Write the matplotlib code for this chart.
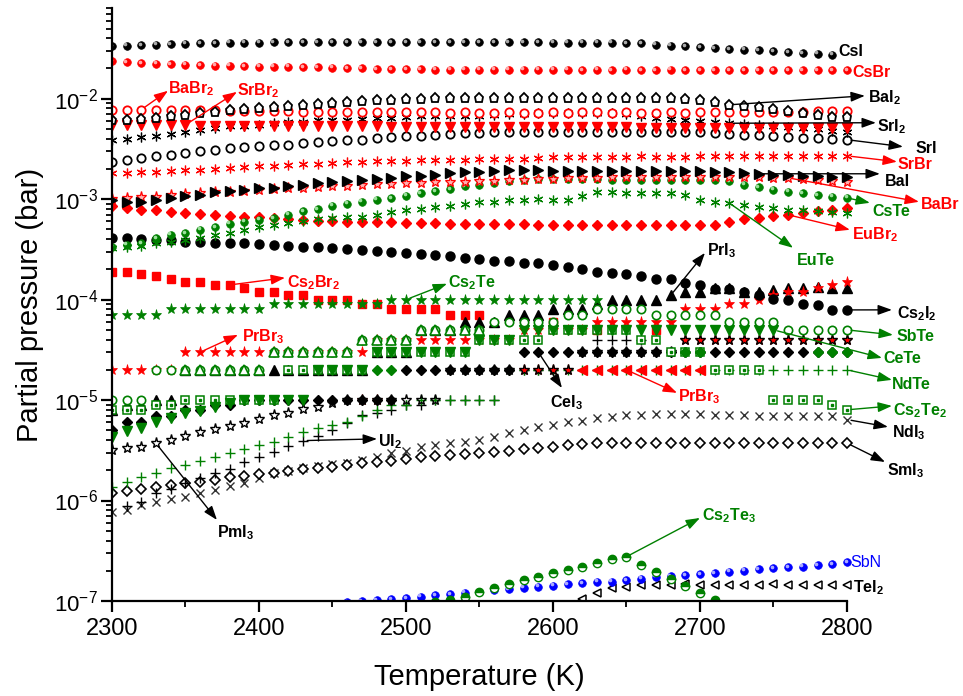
import matplotlib
matplotlib.use('Agg')
import matplotlib.pyplot as plt
from matplotlib.ticker import MultipleLocator, LogLocator, NullFormatter
from matplotlib.patches import Rectangle
from matplotlib.transforms import offset_copy

plt.rcParams['font.family'] = ['Liberation Sans', 'DejaVu Sans']
plt.rcParams['mathtext.fontset'] = 'custom'
plt.rcParams['mathtext.rm'] = 'Liberation Sans'
plt.rcParams['mathtext.it'] = 'Liberation Sans:italic'
plt.rcParams['mathtext.bf'] = 'Liberation Sans:bold'
plt.rcParams['axes.unicode_minus'] = False

GREEN = '#008000'
RED = '#ff0000'
BLUE = '#0000ff'


def temps(t0, n):
    return list(range(t0, t0 + 10 * n, 10))


# ---- data (partial pressure in bar, temperatures in K) ----
t_full = temps(2300, 51)

t_csi = temps(2300, 50)
csi = [0.0332, 0.0337, 0.0343, 0.0345, 0.0350, 0.0353, 0.0356, 0.0358, 0.0360, 0.0361,
       0.0362, 0.0363, 0.0364, 0.0365, 0.0365, 0.0366, 0.0366, 0.0366, 0.0366, 0.0366,
       0.0365, 0.0365, 0.0365, 0.0364, 0.0364, 0.0364, 0.0364, 0.0363, 0.0363, 0.0363,
       0.0362, 0.0362, 0.0362, 0.0361, 0.0360, 0.0358, 0.0355, 0.0345, 0.0338, 0.0332,
       0.0328, 0.0320, 0.0313, 0.0308, 0.0303, 0.0296, 0.0289, 0.0285, 0.0280, 0.0274]

csbr = [0.0235, 0.0230, 0.0227, 0.0223, 0.0221, 0.0218, 0.0216, 0.0214, 0.0213, 0.0211,
        0.0209, 0.0209, 0.0208, 0.0206, 0.0205, 0.0203, 0.0202, 0.0200, 0.0198, 0.0198,
        0.0197, 0.0197, 0.0195, 0.0195, 0.0194, 0.0194, 0.0194, 0.0194, 0.0194, 0.0194,
        0.0194, 0.0194, 0.0193, 0.0194, 0.0193, 0.0194, 0.0193, 0.0193, 0.0194, 0.0193,
        0.0193, 0.0192, 0.0193, 0.0193, 0.0192, 0.0192, 0.0193, 0.0192, 0.0192, 0.0191,
        0.0191]

bai2 = [0.00618, 0.00618, 0.00633, 0.00643, 0.00668, 0.00694, 0.00721, 0.00731, 0.00777, 0.00795,
        0.00808, 0.00826, 0.00851, 0.00864, 0.00890, 0.00917, 0.00938, 0.00953, 0.00976, 0.00976,
        0.00991, 0.0100, 0.0101, 0.0101, 0.0102, 0.0102, 0.0102, 0.0102, 0.0102, 0.0102,
        0.0102, 0.0102, 0.0102, 0.0101, 0.0101, 0.0101, 0.0101, 0.0101, 0.0101, 0.0100,
        0.0097, 0.0092, 0.0087, 0.00837, 0.00818, 0.00789, 0.00760, 0.00721, 0.00689, 0.00665,
        0.00658]

babr2 = [0.0078, 0.0078, 0.0078, 0.0078, 0.0077, 0.0077, 0.0077, 0.0077, 0.0076, 0.0076,
         0.0076, 0.0075, 0.0075, 0.0074, 0.0074, 0.0074, 0.0073, 0.0073, 0.0073, 0.0073,
         0.0073, 0.0073, 0.0073, 0.0072, 0.0073, 0.0072, 0.0072, 0.0073, 0.0072, 0.0072,
         0.0073, 0.0072, 0.0073, 0.0073, 0.0072, 0.0073, 0.0072, 0.0072, 0.0073, 0.0072,
         0.0073, 0.0073, 0.0073, 0.0073, 0.0074, 0.0074, 0.0074, 0.0074, 0.0075, 0.0075,
         0.0075]

srbr2 = [0.0055, 0.0055, 0.0055, 0.0055, 0.0055, 0.0055, 0.0054, 0.0054, 0.0054, 0.0054,
         0.0054, 0.0054, 0.0054, 0.0053, 0.0053, 0.0053, 0.0053, 0.0053, 0.0053, 0.0052,
         0.0052, 0.0052, 0.0052, 0.0052, 0.0052, 0.0052, 0.0052, 0.0052, 0.0052, 0.0052,
         0.0052, 0.0052, 0.0052, 0.0052, 0.0052, 0.0052, 0.0051, 0.0051, 0.0051, 0.0051,
         0.0051, 0.0051, 0.0051, 0.0051, 0.0051, 0.0051, 0.0051, 0.0051, 0.0051, 0.0051,
         0.0051]

sri2 = [0.0039, 0.0040, 0.0042, 0.0043, 0.0045, 0.0047, 0.0049, 0.0051, 0.0053, 0.0054,
        0.0055, 0.0057, 0.0058, 0.0059, 0.0061, 0.0062, 0.0062, 0.0063, 0.0064, 0.0065,
        0.0066, 0.0067, 0.0067, 0.0068, 0.0068, 0.0068, 0.0069, 0.0070, 0.0071, 0.0072,
        0.0072, 0.0072, 0.0072, 0.0072, 0.0072, 0.0070, 0.0067, 0.0065, 0.0063, 0.0062,
        0.0060, 0.0059, 0.0057, 0.0056, 0.0055, 0.0054, 0.0052, 0.0051, 0.0050, 0.0048,
        0.0047]

sri = [0.00237, 0.00247, 0.00257, 0.00267, 0.00278, 0.00289, 0.00300, 0.00307, 0.00320, 0.00330,
       0.00337, 0.00345, 0.00350, 0.00364, 0.00369, 0.00378, 0.00387, 0.00391, 0.00406, 0.00416,
       0.00422, 0.00429, 0.00439, 0.00450, 0.00457, 0.00457, 0.00464, 0.00464, 0.00468, 0.00468,
       0.00466, 0.00464, 0.00464, 0.00465, 0.00464, 0.00464, 0.00463, 0.00464, 0.00464, 0.00463,
       0.00464, 0.00457, 0.00450, 0.00439, 0.00432, 0.00422, 0.00416, 0.00406, 0.00403, 0.00397,
       0.00391]

srbr = [0.00182, 0.00182, 0.00185, 0.00185, 0.00189, 0.00193, 0.00196, 0.00200, 0.00204, 0.00209,
        0.00212, 0.00215, 0.00219, 0.00222, 0.00225, 0.00229, 0.00232, 0.00234, 0.00238, 0.00240,
        0.00242, 0.00243, 0.00245, 0.00247, 0.00248, 0.00251, 0.00252, 0.00254, 0.00254, 0.00256,
        0.00260, 0.00262, 0.00265, 0.00265, 0.00262, 0.00264, 0.00266, 0.00264, 0.00265, 0.00265,
        0.00266, 0.00266, 0.00266, 0.00267, 0.00267, 0.00267, 0.00268, 0.00268, 0.00268, 0.00269,
        0.00270]

bai = [0.000986, 0.000935, 0.000948, 0.000986, 0.001026, 0.001064, 0.001106, 0.001167, 0.001194, 0.001242,
       0.001290, 0.001290, 0.001338, 0.001391, 0.001446, 0.001466, 0.001500, 0.001560, 0.001585, 0.001622,
       0.001683, 0.001710, 0.001750, 0.001820, 0.001845, 0.001845, 0.001888, 0.001932, 0.001932, 0.001963,
       0.00192, 0.00191, 0.00190, 0.00190, 0.00189, 0.00189, 0.00189, 0.00189, 0.00189, 0.00189,
       0.00189, 0.00188, 0.00187, 0.00182, 0.00179, 0.00175, 0.00173, 0.00170, 0.00169, 0.00167,
       0.00165]

babr = [0.000997, 0.001020, 0.001044, 0.001059, 0.001101, 0.001126, 0.001145, 0.001171, 0.001188, 0.001215,
        0.001235, 0.001255, 0.001284, 0.001302, 0.001332, 0.001354, 0.001363, 0.001385, 0.001407, 0.001417,
        0.001440, 0.001460, 0.001473, 0.001494, 0.001494, 0.001518, 0.001528, 0.001543, 0.001553, 0.001578,
        0.00160, 0.00162, 0.00163, 0.00164, 0.00165, 0.00165, 0.00165, 0.00165, 0.00165, 0.00165,
        0.00165, 0.00165, 0.00165, 0.00165, 0.00165, 0.00164, 0.00163, 0.00160, 0.00155, 0.00152,
        0.00148]

cste = [0.000338, 0.000351, 0.000365, 0.000410, 0.000442, 0.000459, 0.000496, 0.000523, 0.000569, 0.000599,
        0.000623, 0.000648, 0.000699, 0.000754, 0.000796, 0.000859, 0.000900, 0.000948, 0.000986, 0.001025,
        0.001081, 0.001150, 0.001193, 0.001260, 0.001338, 0.001391, 0.001446, 0.001500, 0.001560, 0.001585,
        0.00158, 0.00157, 0.00157, 0.00157, 0.00156, 0.00156, 0.00156, 0.00156, 0.00156, 0.00156,
        0.00156, 0.00155, 0.00150, 0.00139, 0.00132, 0.00124, 0.00119, 0.00115, 0.00110, 0.00106,
        0.00103]

eute = [0.000326, 0.000338, 0.000343, 0.000365, 0.000379, 0.000394, 0.000410, 0.000442, 0.000459, 0.000496,
        0.000528, 0.000556, 0.000578, 0.000609, 0.000633, 0.000648, 0.000663, 0.000672, 0.000699, 0.000737,
        0.000772, 0.000796, 0.000834, 0.000859, 0.000900, 0.000927, 0.000948, 0.000971, 0.000986, 0.001009,
        0.000986, 0.000986, 0.00108, 0.00118, 0.00118, 0.00116, 0.00116, 0.00116, 0.00115, 0.00111,
        0.000986, 0.000948, 0.000914, 0.000878, 0.000840, 0.000815, 0.000784, 0.000772, 0.000754, 0.000740,
        0.000727]

eubr2 = [0.000846, 0.000815, 0.000784, 0.000772, 0.000749, 0.000727, 0.000715, 0.000699, 0.000683, 0.000672,
         0.000663, 0.000648, 0.000633, 0.000623, 0.000613, 0.000609, 0.000599, 0.000595, 0.000591, 0.000586,
         0.000582, 0.000578, 0.000573, 0.000569, 0.000569, 0.000565, 0.000565, 0.000561, 0.000561, 0.000556,
         0.000556, 0.000556, 0.000556, 0.000556, 0.000556, 0.000556, 0.000556, 0.000556, 0.000556, 0.000556,
         0.000556, 0.000556, 0.000599, 0.000633, 0.000648, 0.000683, 0.000699, 0.000727, 0.000754, 0.000784,
         0.000815]

cs2i2 = [0.000410, 0.000410, 0.000401, 0.000394, 0.000388, 0.000379, 0.000379, 0.000370, 0.000370, 0.000365,
         0.000359, 0.000351, 0.000343, 0.000338, 0.000333, 0.000326, 0.000318, 0.000313, 0.000308, 0.000301,
         0.000294, 0.000286, 0.000275, 0.000269, 0.000259, 0.000253, 0.000245, 0.000240, 0.000234, 0.000231,
         0.000222, 0.000211, 0.000201, 0.000190, 0.000184, 0.000181, 0.000170, 0.000160, 0.000160, 0.000148,
         0.000140, 0.000127, 0.000127, 0.000120, 0.000112, 0.000101, 0.0000995, 0.0000908, 0.0000890, 0.0000790,
         0.0000790]

t_cs2br2 = [2300, 2310, 2320, 2330, 2340, 2350, 2360, 2370, 2380, 2390,
            2400, 2410, 2420, 2430, 2440, 2450, 2460, 2470, 2480, 2490,
            2500, 2510, 2520, 2530, 2540, 2550, 2600, 2630, 2670]
cs2br2 = [1.9e-4, 1.9e-4, 1.8e-4, 1.7e-4, 1.6e-4, 1.5e-4, 1.5e-4, 1.4e-4, 1.4e-4, 1.3e-4,
          1.2e-4, 1.2e-4, 1.1e-4, 1.1e-4, 1.0e-4, 1.0e-4, 1.0e-4, 9e-5, 9e-5, 8e-5,
          8e-5, 8e-5, 8e-5, 7e-5, 7e-5, 7e-5, 6e-5, 5e-5, 5e-5]

t_cs2te = temps(2300, 34)
cs2te = [7e-5, 7e-5, 7e-5, 7e-5, 8e-5, 8e-5, 8e-5, 8e-5, 8e-5, 8e-5,
         8e-5, 9e-5, 9e-5, 9e-5, 9e-5, 9e-5, 9e-5, 9e-5, 9e-5, 1e-4,
         1e-4, 1e-4, 1e-4, 1e-4, 1e-4, 1e-4, 1e-4, 1e-4, 1e-4, 1e-4,
         1e-4, 1e-4, 1e-4, 1e-4]

prbr3_star = [2e-5, 2e-5, 2e-5, 2e-5, 2e-5, 3e-5, 3e-5, 3e-5, 3e-5, 3e-5,
              3e-5, 3e-5, 3e-5, 3e-5, 3e-5, 3e-5, 3e-5, 3e-5, 4e-5, 4e-5,
              4e-5, 4e-5, 4e-5, 4e-5, 4e-5, 4e-5, 4e-5, 4e-5, 5e-5, 5e-5,
              5e-5, 5e-5, 5e-5, 6e-5, 6e-5, 6e-5, 6e-5, 6e-5, 6e-5, 8e-5,
              8e-5, 8e-5, 9e-5, 9e-5, 1.0e-4, 1.1e-4, 1.2e-4, 1.2e-4, 1.3e-4, 1.4e-4,
              1.5e-4]

pri3 = [8e-6, 9e-6, 9e-6, 1e-5, 1e-5, 2e-5, 2e-5, 2e-5, 2e-5, 2e-5,
        2e-5, 2e-5, 2e-5, 2e-5, 2e-5, 2e-5, 2e-5, 2e-5, 3e-5, 3e-5,
        3e-5, 5e-5, 5e-5, 5e-5, 6e-5, 6e-5, 6e-5, 7e-5, 7e-5, 7e-5,
        8e-5, 8e-5, 8e-5, 9e-5, 1.0e-4, 1.0e-4, 1.0e-4, 1.0e-4, 1.1e-4, 1.2e-4,
        1.2e-4, 1.3e-4, 1.3e-4, 1.2e-4, 1.2e-4, 1.25e-4, 1.3e-4, 1.3e-4, 1.35e-4, 1.3e-4,
        1.3e-4]

cei3 = [5e-6, 6e-6, 6e-6, 7e-6, 7e-6, 8e-6, 8e-6, 9e-6, 9e-6, 1e-5,
        1e-5, 1e-5, 1e-5, 1e-5, 1e-5, 1e-5, 1e-5, 1e-5, 1e-5, 1e-5,
        2e-5, 2e-5, 2e-5, 2e-5, 2e-5, 2e-5, 2e-5, 2e-5, 3e-5, 3e-5,
        3e-5, 3e-5, 3e-5, 3e-5, 3e-5, 3e-5, 3e-5, 3e-5, 3e-5, 3e-5,
        3e-5, 3e-5, 3e-5, 3e-5, 3e-5, 3e-5, 3e-5, 3e-5, 3e-5, 3e-5,
        3e-5]

t_cete = temps(2300, 46)
cete = [4.3e-6, 4.9e-6, 5.3e-6, 6.1e-6, 6.6e-6, 7.4e-6, 7.7e-6, 8.6e-6, 9.3e-6, 1e-5,
        1e-5, 1e-5, 1e-5, 1e-5, 2e-5, 2e-5, 2e-5, 2e-5, 3e-5, 3e-5,
        3e-5, 3e-5, 3e-5, 3e-5, 3e-5, 4e-5, 4e-5, 4e-5, 5e-5, 5e-5,
        5e-5, 5e-5, 5e-5, 5e-5, 5e-5, 5e-5, 5e-5, 5e-5, 5e-5, 5e-5,
        5e-5, 5e-5, 5e-5, 5e-5, 5e-5, 5e-5]

sbte = [1e-5, 1e-5, 1e-5, 2e-5, 2e-5, 2e-5, 2e-5, 2e-5, 2e-5, 2e-5,
        2e-5, 3e-5, 3e-5, 3e-5, 3e-5, 3e-5, 3e-5, 4e-5, 4e-5, 4e-5,
        4e-5, 5e-5, 5e-5, 5e-5, 5e-5, 5e-5, 6e-5, 6e-5, 6e-5, 6e-5,
        6e-5, 7e-5, 7e-5, 8e-5, 8e-5, 8e-5, 8e-5, 7e-5, 7e-5, 7e-5,
        7e-5, 7e-5, 6e-5, 6e-5, 6e-5, 6e-5, 5e-5, 5e-5, 5e-5, 5e-5,
        5e-5]

t_tri = temps(2350, 21)
tri_green = [2e-5, 2e-5, 2e-5, 2e-5, 2e-5, 2e-5, 3e-5, 3e-5, 3e-5, 3e-5,
             3e-5, 3e-5, 4e-5, 4e-5, 4e-5, 4e-5, 5e-5, 5e-5, 5e-5, 5e-5,
             5e-5]

cs2te2 = [8e-6, 8e-6, 8e-6, 9e-6, 9e-6, 1e-5, 1e-5, 1e-5, 1e-5, 1e-5,
          1e-5, 1e-5, 2e-5, 2e-5, 2e-5, 2e-5, 2e-5, 2e-5, 3e-5, 3e-5,
          3e-5, 3e-5, 3e-5, 3e-5, 3e-5, 4e-5, 4e-5, 4e-5, 4e-5, 4e-5,
          5e-5, 5e-5, 5e-5, 5e-5, 5e-5, 5e-5, 4e-5, 4e-5, 3e-5, 3e-5,
          3e-5, 2e-5, 2e-5, 2e-5, 2e-5, 1e-5, 1e-5, 1e-5, 1e-5, 9e-6,
          8e-6]

ndte = [1.37e-6, 1.53e-6, 1.72e-6, 1.86e-6, 2.09e-6, 2.26e-6, 2.49e-6, 2.74e-6, 3.0e-6, 3.24e-6,
        3.58e-6, 3.86e-6, 4.33e-6, 4.86e-6, 5.25e-6, 5.66e-6, 6.1e-6, 7e-6, 8e-6, 9e-6,
        9e-6, 1e-5, 1e-5, 1e-5, 1e-5, 1e-5, 1e-5, 2e-5, 2e-5, 2e-5,
        2e-5, 2e-5, 2e-5, 2e-5, 2e-5, 2e-5, 2e-5, 2e-5, 2e-5, 2e-5,
        2e-5, 2e-5, 2e-5, 2e-5, 2e-5, 2e-5, 2e-5, 2e-5, 2e-5, 2e-5,
        2e-5]

t_ui2 = temps(2310, 36)
ui2 = [8.8e-7, 9.75e-7, 1.2e-6, 1.3e-6, 1.51e-6, 1.67e-6, 1.86e-6, 2.05e-6, 2.44e-6, 2.74e-6,
       3.07e-6, 3.5e-6, 3.95e-6, 4.4e-6, 5e-6, 5.9e-6, 7.1e-6, 7.4e-6, 8e-6, 9e-6,
       9e-6, 1e-5, 1e-5, 1e-5, 1e-5, 1e-5, 2e-5, 2e-5, 2e-5, 2e-5,
       3e-5, 3e-5, 4e-5, 4e-5, 4e-5, 4e-5]

pmi3 = [3.17e-6, 3.3e-6, 3.44e-6, 3.7e-6, 4.0e-6, 4.4e-6, 4.86e-6, 5.1e-6, 5.5e-6, 5.96e-6,
        6.45e-6, 7.1e-6, 7.5e-6, 8.1e-6, 8.6e-6, 9.3e-6, 1e-5, 1e-5, 1e-5, 1e-5,
        1e-5, 1e-5, 1e-5, 2e-5, 2e-5, 2e-5, 2e-5, 2e-5, 2e-5, 2e-5,
        2e-5, 2e-5, 3e-5, 3e-5, 3e-5, 3e-5, 3e-5, 3e-5, 3e-5, 4e-5,
        4e-5, 4e-5, 4e-5, 4e-5, 4e-5, 4e-5, 4e-5, 4e-5, 4e-5, 4e-5,
        4e-5]

t_redstar = [2470, 2480, 2580, 2590, 2600, 2610, 2690, 2700, 2710, 2720,
             2730, 2740, 2750, 2760, 2770, 2780, 2790, 2800]
redstar = [1e-5, 1e-5, 2e-5, 2e-5, 2e-5, 2e-5, 4e-5, 4e-5, 4e-5, 4e-5,
           4e-5, 4e-5, 4e-5, 4e-5, 4e-5, 4e-5, 4e-5, 4e-5]

t_greendia = [2480, 2490, 2690, 2700, 2780, 2790, 2800]
greendia = [2e-5, 2e-5, 3e-5, 3e-5, 3e-5, 3e-5, 3e-5]

t_prbr3_tri = temps(2620, 9)
prbr3_tri = [2e-5, 2e-5, 2e-5, 2e-5, 2e-5, 2e-5, 2e-5, 2e-5, 2e-5]

ndi3 = [7.75e-7, 8.1e-7, 9.0e-7, 9.75e-7, 1.03e-6, 1.09e-6, 1.18e-6, 1.28e-6, 1.4e-6, 1.51e-6,
        1.67e-6, 1.86e-6, 1.98e-6, 2.09e-6, 2.2e-6, 2.3e-6, 2.38e-6, 2.53e-6, 2.74e-6, 2.96e-6,
        3.14e-6, 3.4e-6, 3.58e-6, 3.73e-6, 3.86e-6, 4.0e-6, 4.3e-6, 4.7e-6, 5.0e-6, 5.4e-6,
        5.7e-6, 6.0e-6, 6.2e-6, 6.6e-6, 6.8e-6, 7.1e-6, 7.1e-6, 7.2e-6, 7.2e-6, 7.2e-6,
        7.2e-6, 7.1e-6, 7.1e-6, 7.1e-6, 7.0e-6, 7.0e-6, 7.0e-6, 6.9e-6, 6.9e-6, 6.9e-6,
        6.4e-6]

smi3 = [1.2e-6, 1.25e-6, 1.29e-6, 1.35e-6, 1.43e-6, 1.48e-6, 1.54e-6, 1.6e-6, 1.71e-6, 1.76e-6,
        1.84e-6, 1.9e-6, 1.98e-6, 2.05e-6, 2.09e-6, 2.18e-6, 2.26e-6, 2.35e-6, 2.4e-6, 2.49e-6,
        2.57e-6, 2.69e-6, 2.78e-6, 2.85e-6, 2.92e-6, 3.0e-6, 3.07e-6, 3.14e-6, 3.24e-6, 3.3e-6,
        3.44e-6, 3.58e-6, 3.66e-6, 3.73e-6, 3.78e-6, 3.78e-6, 3.78e-6, 3.78e-6, 3.78e-6, 3.78e-6,
        3.78e-6, 3.78e-6, 3.78e-6, 3.78e-6, 3.78e-6, 3.78e-6, 3.78e-6, 3.78e-6, 3.78e-6, 3.78e-6,
        3.73e-6]

t_tei2 = temps(2620, 19)
tei2 = [1.04e-7, 1.2e-7, 1.35e-7, 1.39e-7, 1.45e-7, 1.44e-7, 1.45e-7, 1.46e-7, 1.45e-7, 1.45e-7,
        1.44e-7, 1.45e-7, 1.45e-7, 1.46e-7, 1.45e-7, 1.45e-7, 1.44e-7, 1.45e-7, 1.45e-7]

t_sbn = temps(2460, 35)
sbn = [0.97e-7, 1.0e-7, 1.023e-7, 1.047e-7, 1.071e-7, 1.104e-7, 1.147e-7, 1.174e-7, 1.21e-7, 1.238e-7,
       1.287e-7, 1.317e-7, 1.357e-7, 1.388e-7, 1.42e-7, 1.466e-7, 1.5e-7, 1.556e-7, 1.556e-7, 1.618e-7,
       1.667e-7, 1.745e-7, 1.773e-7, 1.815e-7, 1.857e-7, 1.887e-7, 1.958e-7, 2.003e-7, 2.069e-7, 2.117e-7,
       2.166e-7, 2.197e-7, 2.27e-7, 2.334e-7, 2.43e-7]

t_cs2te3 = temps(2520, 21)
cs2te3 = [0.97e-7, 1.02e-7, 1.1e-7, 1.22e-7, 1.35e-7, 1.46e-7, 1.6e-7, 1.73e-7, 1.9e-7, 2.03e-7,
          2.2e-7, 2.41e-7, 2.6e-7, 2.76e-7, 2.28e-7, 1.96e-7, 1.65e-7, 1.41e-7, 1.19e-7, 1.02e-7,
          0.9e-7]

# ---- figure ----
fig = plt.figure(figsize=(9.63, 6.96), dpi=100)
ax = fig.add_axes([0.1163, 0.1365, 0.7632, 0.8520])
ax.set_yscale('log')
ax.set_xlim(2300, 2800)
ax.set_ylim(1e-7, 0.08)

# clip on left/bottom only (markers at 2800 stay whole)
clip = Rectangle((0, 0), 1.2, 1.0, transform=ax.transAxes)


def draw(t, v, marker, color, ms=5.5, face=None, mew=1.0, **kw):
    fc = color if face is None else face
    ln, = ax.plot(t, v, ls='none', marker=marker, ms=ms, mec=color, mfc=fc, mew=mew, **kw)
    ln.set_clip_path(clip)
    return ln


def sphere(t, v, color, light, ms=5.5):
    draw(t, v, 'o', color, ms=ms, mew=0.5)
    tr = offset_copy(ax.transData, fig=fig, x=-1.0, y=1.0, units='points')
    hl, = ax.plot(t, v, ls='none', marker='o', ms=1.6, color=light, transform=tr)
    hl.set_clip_path(clip)


AST = (6, 2, 0)

# lower part
draw(t_full, ndi3, 'x', '#333333', ms=6, mew=1.0)
draw(t_full, smi3, 'D', 'black', ms=5, face='white', mew=1.2)
draw(t_ui2, ui2, '+', 'black', ms=6.5, mew=1.0)
draw(t_full, ndte, '+', GREEN, ms=6.5, mew=1.0)
draw(t_cs2br2, cs2br2, 's', RED, ms=5.5)
draw(t_redstar, redstar, '*', RED, ms=8, mew=0.5)
draw(t_full, pmi3, '*', 'black', ms=8, face='none', mew=1.0)
draw(t_full, cei3, 'D', 'black', ms=5)
draw(t_full, pri3, '^', 'black', ms=6.5)
draw(t_full, prbr3_star, '*', RED, ms=8, mew=0.5)
draw(t_full, cs2te2, 's', GREEN, ms=5.5, face='white', mew=1.1)
draw(t_full, cs2te2, 's', GREEN, ms=1.8)
draw(t_cete, cete, 'v', GREEN, ms=6.5)
draw(t_full, sbte, 'o', GREEN, ms=6, face='white', mew=1.2)
draw(t_tri, tri_green, '^', GREEN, ms=6.5, face='white', mew=1.2)
draw(t_greendia, greendia, 'D', GREEN, ms=5)
draw(t_prbr3_tri, prbr3_tri, '<', RED, ms=6.5)
draw(t_cs2te, cs2te, '*', GREEN, ms=8, mew=0.5)
draw(t_full, cs2i2, 'o', 'black', ms=6.5)

# upper part
draw(t_full, eubr2, 'D', RED, ms=5)
draw(t_full, eute, AST, GREEN, ms=7, mew=0.9)
sphere(t_full, cste, GREEN, '#9be09b')
draw(t_full, babr, '*', RED, ms=8, face='#ffb0b0', mew=0.9)
draw(t_full, bai, '>', 'black', ms=6.5)
draw(t_full, srbr, AST, RED, ms=7, mew=0.9)
draw(t_full, sri, 'o', 'black', ms=6, face='white', mew=1.3)
draw(t_full, sri2, AST, 'black', ms=7, mew=0.9)
draw(t_full, srbr2, 'v', RED, ms=6.5)
draw(t_full, babr2, 'o', RED, ms=6, face='white', mew=1.3)
draw(t_full, bai2, 'p', 'black', ms=6.5, face='white', mew=1.3)
sphere(t_full, csbr, RED, '#ffaaaa')
sphere(t_csi, csi, 'black', '#aaaaaa')

# bottom
draw(t_tei2, tei2, '<', 'black', ms=5.5, face='white', mew=1.1)
sphere(t_sbn, sbn, BLUE, '#aaaaff')
draw(t_cs2te3, cs2te3, 'o', GREEN, ms=6, mew=1.0, fillstyle='top', markerfacecoloralt='white')

# ---- axes styling ----
for s in ['top', 'right']:
    ax.spines[s].set_visible(False)
for s in ['left', 'bottom']:
    ax.spines[s].set_linewidth(1.6)
ax.xaxis.set_major_locator(MultipleLocator(100))
ax.xaxis.set_minor_locator(MultipleLocator(50))
ax.yaxis.set_minor_locator(LogLocator(base=10, subs=range(2, 10), numticks=20))
ax.yaxis.set_minor_formatter(NullFormatter())
ax.tick_params(which='major', direction='out', length=8, width=1.6, pad=4)
ax.tick_params(which='minor', direction='out', length=4.5, width=1.3)
ax.tick_params(axis='x', labelsize=17)
ax.tick_params(axis='y', labelsize=16, pad=2)

ax.set_xlabel('Temperature (K)', fontsize=21)
ax.set_ylabel('Partial pressure (bar)', fontsize=21)
ax.xaxis.set_label_coords(0.5, -0.105)
ax.yaxis.set_label_coords(-0.092, 0.5)


# ---- labels with arrows ----
def val(t, v, T):
    return v[t.index(T)]


def label(text, pos, color, tail=None, head=None, weight='bold', size=11.5):
    ax.text(pos[0], pos[1], text, color=color, fontsize=size, fontweight=weight,
            ha='left', va='center_baseline', clip_on=False)
    if tail is not None:
        ax.annotate('', xy=head, xytext=tail, annotation_clip=False,
                    arrowprops=dict(arrowstyle='-|>,head_length=0.7,head_width=0.25',
                                    color=color, lw=1.0, shrinkA=3, shrinkB=0,
                                    mutation_scale=12))


label('CsI', (2794, 0.0308), 'black')
label('CsBr', (2803.4, 0.0190), RED)
label(r'BaI$_\mathbf{2}$', (2814.3, 0.0107), 'black', (2720, val(t_full, bai2, 2720)), (2812.2, 0.0107))
label(r'SrI$_\mathbf{2}$', (2820.4, 0.00551), 'black', (2720, val(t_full, sri2, 2720)), (2819.7, 0.00577))
label('SrI', (2846.3, 0.00333), 'black', (2800, val(t_full, sri, 2800)), (2838.1, 0.00333))
label('SrBr', (2834.7, 0.00231), RED, (2800, val(t_full, srbr, 2800)), (2834.0, 0.00236))
label('BaI', (2825.9, 0.00156), 'black', (2740, val(t_full, bai, 2740)), (2822.4, 0.00179))
label('BaBr', (2850.5, 0.00092), RED, (2760, val(t_full, babr, 2760)), (2849.0, 0.000942))
label('CsTe', (2817.0, 0.000783), GREEN, (2800, val(t_full, cste, 2800)), (2815.6, 0.00092))
label(r'EuBr$_\mathbf{2}$', (2803.4, 0.000473), RED, (2760, val(t_full, eubr2, 2760)), (2802.0, 0.000496))
label('EuTe', (2766.0, 0.000255), GREEN, (2720, val(t_full, eute, 2720)), (2763.3, 0.000328))
label(r'PrI$_\mathbf{3}$', (2704.8, 0.000321), 'black', (2680, val(t_full, pri3, 2680)), (2703.4, 0.000292))
label(r'Cs$_\mathbf{2}$I$_\mathbf{2}$', (2834.0, 7.57e-5), 'black', (2800, val(t_full, cs2i2, 2800)), (2830.6, 7.91e-5))
label('SbTe', (2834.0, 4.46e-5), GREEN, (2800, val(t_full, sbte, 2800)), (2831.3, 4.46e-5))
label('CeTe', (2824.5, 2.69e-5), GREEN, (2750, val(t_cete, cete, 2750)), (2823.8, 2.63e-5))
label('NdTe', (2830.6, 1.48e-5), GREEN, (2800, val(t_full, ndte, 2800)), (2830.6, 1.59e-5))
label(r'Cs$_\mathbf{2}$Te$_\mathbf{2}$', (2831.3, 8.36e-6), GREEN, (2800, val(t_full, cs2te2, 2800)), (2830.6, 8.75e-6))
label(r'NdI$_\mathbf{3}$', (2830.6, 5.05e-6), 'black', (2800, val(t_full, ndi3, 2800)), (2827.9, 5.41e-6))
label(r'SmI$_\mathbf{3}$', (2827.2, 2.11e-6), 'black', (2800, val(t_full, smi3, 2800)), (2825.9, 2.42e-6))
label(r'CeI$_\mathbf{3}$', (2598.0, 1.0e-5), 'black', (2590, val(t_full, cei3, 2590)), (2606.1, 1.32e-5))
label(r'PrBr$_\mathbf{3}$', (2685.0, 1.15e-5), RED, (2650, val(t_prbr3_tri, prbr3_tri, 2650)), (2684.4, 1.18e-5))
label(r'Cs$_\mathbf{2}$Br$_\mathbf{2}$', (2419.0, 1.57e-4), RED, (2380, val(t_cs2br2, cs2br2, 2380)), (2417.7, 1.65e-4))
label(r'Cs$_\mathbf{2}$Te', (2528.6, 1.54e-4), GREEN, (2500, val(t_cs2te, cs2te, 2500)), (2527.9, 1.44e-4))
label(r'PrBr$_\mathbf{3}$', (2388.4, 4.56e-5), RED, (2360, val(t_full, prbr3_star, 2360)), (2385.7, 4.46e-5))
label(r'UI$_\mathbf{2}$', (2481.0, 4.11e-6), 'black', (2430, val(t_ui2, ui2, 2430)), (2480.3, 4.11e-6))
label(r'PmI$_\mathbf{3}$', (2371.4, 5.09e-7), 'black', (2330, val(t_full, pmi3, 2330)), (2371.4, 6.41e-7))
label(r'Cs$_\mathbf{2}$Te$_\mathbf{3}$', (2701.4, 7.52e-7), GREEN, (2650, val(t_cs2te3, cs2te3, 2650)), (2700.0, 6.71e-7))
label('SbN', (2802.0, 2.5e-7), BLUE, weight='normal')
label(r'TeI$_\mathbf{2}$', (2804.1, 1.44e-7), 'black')
label(r'BaBr$_\mathbf{2}$', (2338.1, 0.0132), RED, (2320, val(t_full, babr2, 2320)), (2338.1, 0.0120))
label(r'SrBr$_\mathbf{2}$', (2385.0, 0.0126), RED, (2350, val(t_full, srbr2, 2350)), (2385.0, 0.0117))

fig.savefig('out.png', dpi=100)
